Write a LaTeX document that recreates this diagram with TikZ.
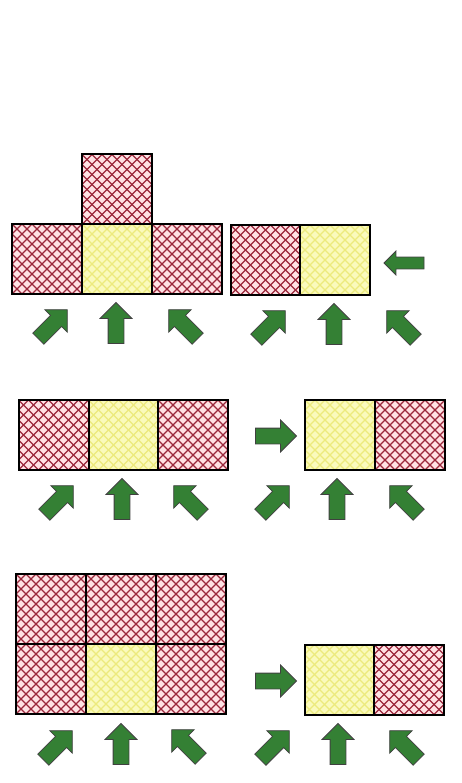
\documentclass[tikz,border=0pt]{standalone}
\usepackage{xcolor}
\usepackage{tikz}
\usetikzlibrary{shapes.arrows}

\definecolor{cellpink}{RGB}{255,226,228}
\definecolor{hatchred}{RGB}{155,40,60}
\definecolor{cellyellow}{RGB}{250,250,188}
\definecolor{hatchyellow}{RGB}{236,234,125}
\definecolor{arrowgreen}{RGB}{52,128,52}

% diagonal cross hatching inside a cell
\newcommand\cellhatch[1]{%
  \foreach \k in {-7,...,7}{
    \draw[#1,line width=1.1pt]
      ([xshift=\k*10pt-40pt,yshift=-40pt]path picture bounding box.center) -- ++(80pt,80pt);
    \draw[#1,line width=1.1pt]
      ([xshift=\k*10pt+40pt,yshift=-40pt]path picture bounding box.center) -- ++(-80pt,80pt);
  }}

\begin{document}
\begin{tikzpicture}[
  x=1pt,y=-1pt,
  redcell/.style={draw=black,line width=2pt,minimum size=70pt,inner sep=0pt,
                  fill=cellpink,path picture={\cellhatch{hatchred}}},
  yelcell/.style={draw=black,line width=2pt,minimum size=70pt,inner sep=0pt,
                  fill=cellyellow,path picture={\cellhatch{hatchyellow}}},
  garrow/.style={single arrow,draw=black!75,line width=0.8pt,fill=arrowgreen,
                 inner sep=7.5pt,single arrow head extend=8pt,single arrow tip angle=90,
                 minimum height=41pt},
  sarrow/.style={garrow,inner sep=5.5pt,single arrow head extend=6pt,minimum height=40pt}
]
\useasboundingbox (0,0) rectangle (462,783);

% first row
\node[redcell] (aTop) at (117,189.5) {};
\node[redcell] (aL) at (47,259) {};
\node[yelcell] (aM) at (117,259) {};
\node[redcell] (aR) at (187,259) {};
\node[redcell] (bL) at (265.5,260) {};
\node[yelcell] (bM) at (335,260) {};
\node[sarrow,rotate=180] (bIn) at (407,263) {};
\node[garrow,rotate=45]  (aNE) at (50,327) {};
\node[garrow,rotate=90]  (aN)  at (116,327) {};
\node[garrow,rotate=135] (aNW) at (186,327) {};
\node[garrow,rotate=45]  (bNE) at (268,328) {};
\node[garrow,rotate=90]  (bN)  at (334,328) {};
\node[garrow,rotate=135] (bNW) at (404,328) {};

% second row
\node[redcell] (cL) at (53.5,435) {};
\node[yelcell] (cM) at (123.5,435) {};
\node[redcell] (cR) at (193,435) {};
\node[garrow] (dIn) at (272,436) {};
\node[yelcell] (dM) at (340,435) {};
\node[redcell] (dR) at (410,435) {};
\node[garrow,rotate=45]  (cNE) at (56,503) {};
\node[garrow,rotate=90]  (cN)  at (122,503) {};
\node[garrow,rotate=135] (cNW) at (191,503) {};
\node[garrow,rotate=45]  (dNE) at (272,503) {};
\node[garrow,rotate=90]  (dN)  at (337,503) {};
\node[garrow,rotate=135] (dNW) at (407,503) {};

% third row
\node[redcell] (eTL) at (51,609) {};
\node[redcell] (eTM) at (121,609) {};
\node[redcell] (eTR) at (191,609) {};
\node[redcell] (eL) at (51,679) {};
\node[yelcell] (eM) at (121,679) {};
\node[redcell] (eR) at (191,679) {};
\node[garrow] (fIn) at (272,681) {};
\node[yelcell] (fM) at (339.5,679.5) {};
\node[redcell] (fR) at (409,679.5) {};
\node[garrow,rotate=45]  (eNE) at (55,748) {};
\node[garrow,rotate=90]  (eN)  at (121,748) {};
\node[garrow,rotate=135] (eNW) at (189,747) {};
\node[garrow,rotate=45]  (fNE) at (272,748) {};
\node[garrow,rotate=90]  (fN)  at (338,748) {};
\node[garrow,rotate=135] (fNW) at (407,748) {};
\end{tikzpicture}
\end{document}
